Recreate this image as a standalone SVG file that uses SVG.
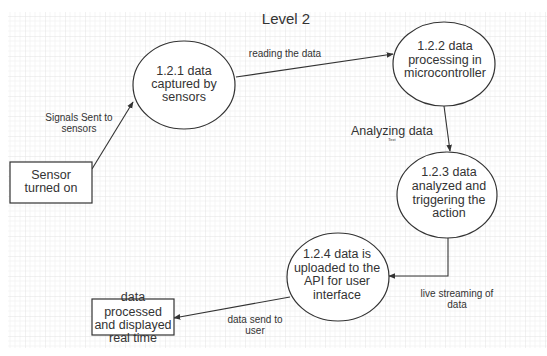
<svg xmlns="http://www.w3.org/2000/svg" width="547" height="356" viewBox="0 0 547 356">
  <style>
    .node { fill: #ffffff; stroke: #333333; stroke-width: 1.2; }
    .big { font-family: "Liberation Sans", Arial, sans-serif; font-size: 12.5px; fill: #333333; text-anchor: middle; }
    .small { font-family: "Liberation Sans", Arial, sans-serif; font-size: 10px; fill: #333333; text-anchor: middle; }
    .edge { fill: none; stroke: #333333; stroke-width: 1.1; marker-end: url(#arrow); }
  </style>
  <defs>
    <pattern id="grid" patternUnits="userSpaceOnUse" x="5" y="-4" width="20" height="20">
      <path d="M5 0V20M10 0V20M15 0V20M0 5H20M0 10H20M0 15H20" stroke="#f3f3f3" stroke-width="0.8" fill="none"/>
      <path d="M0 0V20M0 0H20" stroke="#e3e3e3" stroke-width="1" fill="none"/>
    </pattern>
    <marker id="arrow" viewBox="0 0 10 10" refX="9" refY="5" markerWidth="7" markerHeight="7" markerUnits="userSpaceOnUse" orient="auto">
      <path d="M0 1L10 5L0 9Z" fill="#333333"/>
    </marker>
  </defs>
  <rect x="0" y="0" width="547" height="356" fill="#ffffff"/>
  <rect x="8" y="12" width="539" height="336" fill="url(#grid)"/>

  <text x="286" y="24" font-family="Liberation Sans, Arial, sans-serif" font-size="15" fill="#333333" text-anchor="middle">Level 2</text>

  <g id="connectors">
    <line class="edge" x1="92" y1="169" x2="133" y2="102"/>
    <line class="edge" x1="236" y1="77" x2="393" y2="54"/>
    <line class="edge" x1="444" y1="106" x2="450" y2="151"/>
    <polyline class="edge" points="448,238 448,276 389,276"/>
    <line class="edge" x1="290" y1="297" x2="174" y2="318"/>
    <text class="small" x="79" y="121">Signals Sent to</text>
    <text class="small" x="79" y="132">sensors</text>
    <text class="small" x="285" y="57">reading the data</text>
    <text x="392" y="135" font-family="Liberation Sans, Arial, sans-serif" font-size="12.5" fill="#333333" text-anchor="middle">Analyzing data</text>
    <text x="392" y="141" font-family="Liberation Sans, Arial, sans-serif" font-size="4" fill="#333333" text-anchor="middle">Text</text>
    <text class="small" x="457" y="297">live streaming of</text>
    <text class="small" x="457" y="308">data</text>
    <text class="small" x="255" y="323">data send to</text>
    <text class="small" x="255" y="334">user</text>
  </g>

  <g id="sensor-on">
    <rect class="node" x="10" y="162" width="82" height="41"/>
    <text class="big" x="51" y="178.5">Sensor</text>
    <text class="big" x="51" y="192">turned on</text>
  </g>

  <g id="p121">
    <ellipse class="node" cx="184" cy="85" rx="51" ry="44"/>
    <text class="big" x="184" y="74.5">1.2.1 data</text>
    <text class="big" x="184" y="88">captured by</text>
    <text class="big" x="184" y="101">sensors</text>
  </g>

  <g id="p122">
    <ellipse class="node" cx="444" cy="64" rx="51" ry="42"/>
    <text class="big" x="445" y="49.5">1.2.2 data</text>
    <text class="big" x="445" y="64">processing in</text>
    <text class="big" x="445" y="77">microcontroller</text>
  </g>

  <g id="p123">
    <ellipse class="node" cx="447" cy="195" rx="50" ry="43"/>
    <text class="big" x="449" y="176">1.2.3 data</text>
    <text class="big" x="449" y="189.5">analyzed and</text>
    <text class="big" x="449" y="203.5">triggering the</text>
    <text class="big" x="449" y="216.5">action</text>
  </g>

  <g id="p124">
    <ellipse class="node" cx="338" cy="277" rx="51" ry="44"/>
    <text class="big" x="337" y="258">1.2.4 data is</text>
    <text class="big" x="337" y="271.5">uploaded to the</text>
    <text class="big" x="337" y="285">API for user</text>
    <text class="big" x="337" y="299">interface</text>
  </g>

  <g id="display">
    <rect class="node" x="92" y="299" width="82" height="36"/>
    <text class="big" x="133" y="301">data</text>
    <text class="big" x="133" y="315.5">processed</text>
    <text class="big" x="133" y="328.5">and displayed</text>
    <text class="big" x="133" y="341.5">real time</text>
  </g>
</svg>
